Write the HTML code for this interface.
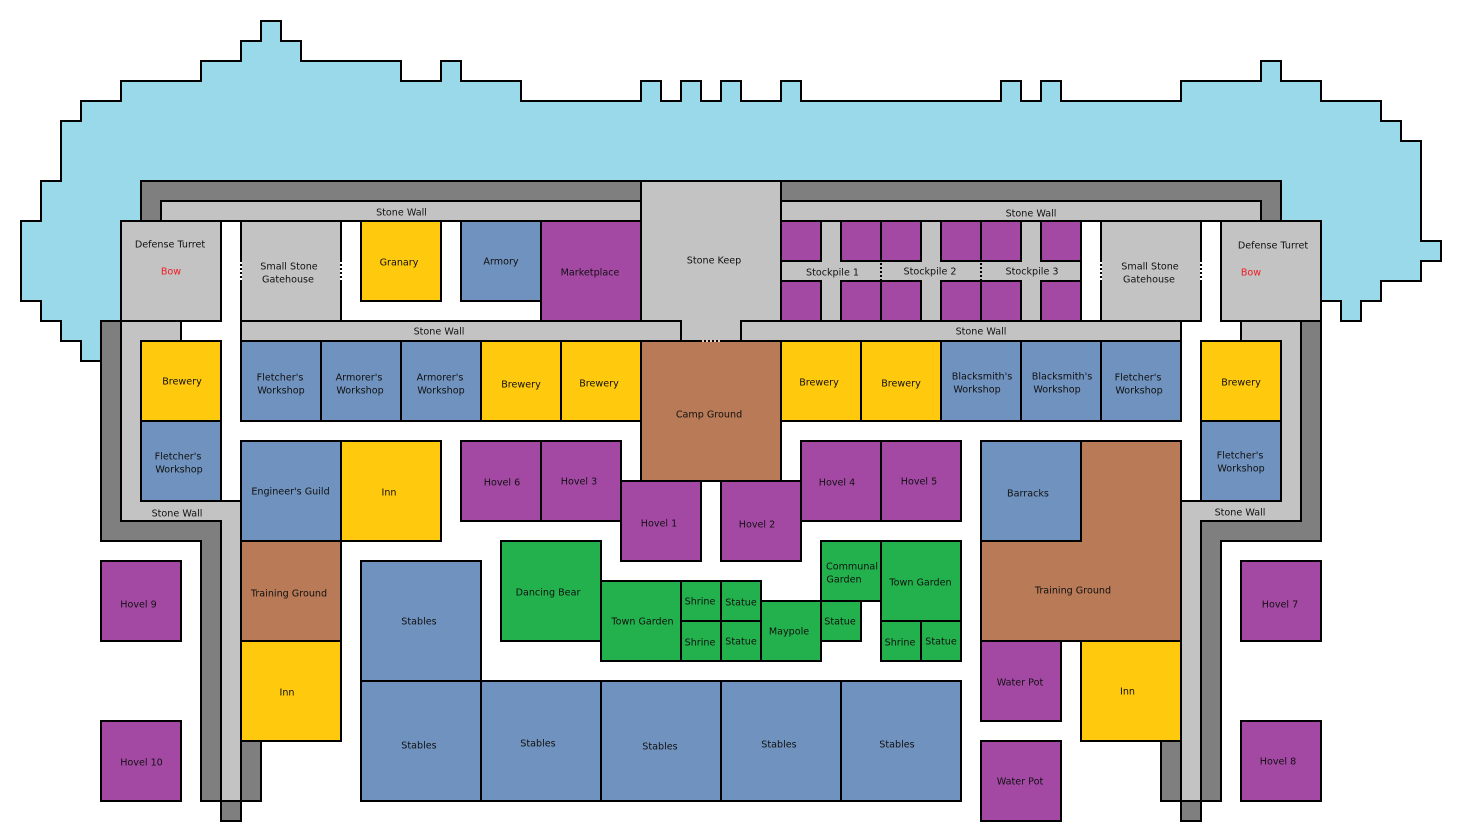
<!DOCTYPE html>
<html><head><meta charset="utf-8"><style>
html,body{margin:0;padding:0;background:#fff}
svg{display:block}
.s{stroke:#000;stroke-width:2;stroke-linejoin:miter}
.m{fill:#99d9ea}.g{fill:#c3c3c3}.d{fill:#7f7f7f}.p{fill:#a349a4}.y{fill:#ffc90e}.b{fill:#7092be}.r{fill:#b97a57}.n{fill:#22b14c}
text{font-family:"DejaVu Sans",sans-serif;font-size:9.6px;text-anchor:middle;fill:#111}
</style></head><body>
<svg width="1460" height="840" viewBox="0 0 1460 840" xmlns="http://www.w3.org/2000/svg">
<g class="s">
<path class="m" d="M261 21H281V41H301V61H401V81H441V61H461V81H521V101H641V81H661V101H681V81H701V101H721V81H741V101H781V81H801V101H1001V81H1021V101H1041V81H1061V101H1181V81H1261V61H1281V81H1321V101H1381V121H1401V141H1421V241H1441V261H1421V281H1381V301H1361V321H1341V301H1321V221H1281V181H141V221H121V321H101V361H81V341H61V321H41V301H21V221H41V181H61V121H81V101H121V81H201V61H241V41H261Z"/>
<path class="d" d="M141 181H1281V221H1261V201H161V221H141Z"/>
<path class="g" d="M161 201H641V221H161ZM781 201H1261V221H781Z"/>
<path class="d" d="M101 321H121V521H221V801H241V741H261V801H201V541H101Z"/>
<path class="d" d="M221 801H241V821H221Z"/>
<path class="g" d="M121 321H181V341H141V501H241V801H221V521H121Z"/>
<path class="d" d="M1301 321H1321V541H1221V801H1161V741H1181V801H1201V521H1301Z"/>
<path class="d" d="M1181 801H1201V821H1181Z"/>
<path class="g" d="M1241 321H1301V521H1201V801H1181V501H1281V341H1241Z"/>
<rect class="g" x="121" y="221" width="100" height="100"/>
<rect class="g" x="241" y="221" width="100" height="100"/>
<rect class="y" x="361" y="221" width="80" height="80"/>
<rect class="b" x="461" y="221" width="80" height="80"/>
<rect class="p" x="541" y="221" width="100" height="100"/>
<rect class="g" x="781" y="221" width="300" height="100"/>
<rect class="p" x="781" y="221" width="40" height="40"/>
<rect class="p" x="841" y="221" width="40" height="40"/>
<rect class="p" x="881" y="221" width="40" height="40"/>
<rect class="p" x="941" y="221" width="40" height="40"/>
<rect class="p" x="981" y="221" width="40" height="40"/>
<rect class="p" x="1041" y="221" width="40" height="40"/>
<rect class="p" x="781" y="281" width="40" height="40"/>
<rect class="p" x="841" y="281" width="40" height="40"/>
<rect class="p" x="881" y="281" width="40" height="40"/>
<rect class="p" x="941" y="281" width="40" height="40"/>
<rect class="p" x="981" y="281" width="40" height="40"/>
<rect class="p" x="1041" y="281" width="40" height="40"/>
<rect class="g" x="1101" y="221" width="100" height="100"/>
<rect class="g" x="1221" y="221" width="100" height="100"/>
<rect class="g" x="241" y="321" width="440" height="20"/>
<rect class="g" x="741" y="321" width="440" height="20"/>
<path class="g" d="M641 181H781V321H741V341H681V321H641Z"/>
<rect class="y" x="141" y="341" width="80" height="80"/>
<rect class="b" x="141" y="421" width="80" height="80"/>
<rect class="b" x="241" y="341" width="80" height="80"/>
<rect class="b" x="321" y="341" width="80" height="80"/>
<rect class="b" x="401" y="341" width="80" height="80"/>
<rect class="y" x="481" y="341" width="80" height="80"/>
<rect class="y" x="561" y="341" width="80" height="80"/>
<rect class="r" x="641" y="341" width="140" height="140"/>
<rect class="y" x="781" y="341" width="80" height="80"/>
<rect class="y" x="861" y="341" width="80" height="80"/>
<rect class="b" x="941" y="341" width="80" height="80"/>
<rect class="b" x="1021" y="341" width="80" height="80"/>
<rect class="b" x="1101" y="341" width="80" height="80"/>
<rect class="y" x="1201" y="341" width="80" height="80"/>
<rect class="b" x="1201" y="421" width="80" height="80"/>
<rect class="b" x="241" y="441" width="100" height="100"/>
<rect class="y" x="341" y="441" width="100" height="100"/>
<rect class="r" x="241" y="541" width="100" height="100"/>
<rect class="y" x="241" y="641" width="100" height="100"/>
<rect class="p" x="461" y="441" width="80" height="80"/>
<rect class="p" x="541" y="441" width="80" height="80"/>
<rect class="p" x="621" y="481" width="80" height="80"/>
<rect class="p" x="721" y="481" width="80" height="80"/>
<rect class="p" x="801" y="441" width="80" height="80"/>
<rect class="p" x="881" y="441" width="80" height="80"/>
<path class="r" d="M1081 441H1181V641H981V541H1081Z"/>
<rect class="b" x="981" y="441" width="100" height="100"/>
<rect class="p" x="981" y="641" width="80" height="80"/>
<rect class="y" x="1081" y="641" width="100" height="100"/>
<rect class="p" x="981" y="741" width="80" height="80"/>
<rect class="b" x="361" y="561" width="120" height="120"/>
<rect class="b" x="361" y="681" width="120" height="120"/>
<rect class="b" x="481" y="681" width="120" height="120"/>
<rect class="b" x="601" y="681" width="120" height="120"/>
<rect class="b" x="721" y="681" width="120" height="120"/>
<rect class="b" x="841" y="681" width="120" height="120"/>
<rect class="n" x="501" y="541" width="100" height="100"/>
<rect class="n" x="601" y="581" width="80" height="80"/>
<rect class="n" x="681" y="581" width="40" height="40"/>
<rect class="n" x="721" y="581" width="40" height="40"/>
<rect class="n" x="681" y="621" width="40" height="40"/>
<rect class="n" x="721" y="621" width="40" height="40"/>
<rect class="n" x="761" y="601" width="60" height="60"/>
<rect class="n" x="821" y="541" width="60" height="60"/>
<rect class="n" x="821" y="601" width="40" height="40"/>
<rect class="n" x="881" y="541" width="80" height="80"/>
<rect class="n" x="881" y="621" width="40" height="40"/>
<rect class="n" x="921" y="621" width="40" height="40"/>
<rect class="p" x="101" y="561" width="80" height="80"/>
<rect class="p" x="101" y="721" width="80" height="80"/>
<rect class="p" x="1241" y="561" width="80" height="80"/>
<rect class="p" x="1241" y="721" width="80" height="80"/>
</g>
<g fill="none" stroke-width="2">
<path stroke="#fff" stroke-dasharray="2 2" d="M241 262V280M341 262V280M1101 262V280M1201 262V280"/>
<path stroke="#000" stroke-dasharray="2 2" d="M881 263V280M981 263V280M1081 263V280"/>
<path stroke="#e8cdb8" stroke-dasharray="2 2" d="M702 341H720"/>
</g>
<text x="401.5" y="215.5">Stone Wall</text>
<text x="1031" y="216.5">Stone Wall</text>
<text x="439" y="334.5">Stone Wall</text>
<text x="981" y="334.5">Stone Wall</text>
<text x="177" y="516.5">Stone Wall</text>
<text x="1240" y="515.5">Stone Wall</text>
<text x="170" y="247.5">Defense Turret</text>
<text x="171" y="274.5" style="fill:#ed1c24">Bow</text>
<text x="289" y="269.5">Small Stone</text>
<text x="288" y="282.5">Gatehouse</text>
<text x="399" y="265.5">Granary</text>
<text x="501" y="264.5">Armory</text>
<text x="590" y="275.5">Marketplace</text>
<text x="714" y="263.5">Stone Keep</text>
<text x="832.5" y="275.5">Stockpile 1</text>
<text x="930" y="274.5">Stockpile 2</text>
<text x="1032" y="274.5">Stockpile 3</text>
<text x="1150" y="269.5">Small Stone</text>
<text x="1149" y="282.5">Gatehouse</text>
<text x="1273" y="248.5">Defense Turret</text>
<text x="1251" y="275.5" style="fill:#ed1c24">Bow</text>
<text x="182" y="384.5">Brewery</text>
<text x="280" y="380.5">Fletcher's</text>
<text x="281" y="393.5">Workshop</text>
<text x="359" y="380.5">Armorer's</text>
<text x="360" y="393.5">Workshop</text>
<text x="440" y="380.5">Armorer's</text>
<text x="441" y="393.5">Workshop</text>
<text x="521" y="387.5">Brewery</text>
<text x="599" y="386.5">Brewery</text>
<text x="709" y="417.5">Camp Ground</text>
<text x="819" y="385.5">Brewery</text>
<text x="901" y="386.5">Brewery</text>
<text x="982" y="379.5">Blacksmith's</text>
<text x="977" y="392.5">Workshop</text>
<text x="1062" y="379.5">Blacksmith's</text>
<text x="1057" y="392.5">Workshop</text>
<text x="1138" y="380.5">Fletcher's</text>
<text x="1139" y="393.5">Workshop</text>
<text x="1241" y="385.5">Brewery</text>
<text x="178" y="459.5">Fletcher's</text>
<text x="179" y="472.5">Workshop</text>
<text x="1240" y="458.5">Fletcher's</text>
<text x="1241" y="471.5">Workshop</text>
<text x="290.5" y="494.5">Engineer's Guild</text>
<text x="389" y="495.5">Inn</text>
<text x="502" y="485.5">Hovel 6</text>
<text x="579" y="484.5">Hovel 3</text>
<text x="659" y="526.5">Hovel 1</text>
<text x="757" y="527.5">Hovel 2</text>
<text x="837" y="485.5">Hovel 4</text>
<text x="919" y="484.5">Hovel 5</text>
<text x="1028" y="496.5">Barracks</text>
<text x="1073" y="593.5">Training Ground</text>
<text x="289" y="596.5">Training Ground</text>
<text x="548" y="595.5">Dancing Bear</text>
<text x="419" y="624.5">Stables</text>
<text x="642.5" y="624.5">Town Garden</text>
<text x="700" y="604.5">Shrine</text>
<text x="741" y="605.5">Statue</text>
<text x="700" y="645.5">Shrine</text>
<text x="741" y="644.5">Statue</text>
<text x="789" y="634.5">Maypole</text>
<text x="852" y="569.5">Communal</text>
<text x="844" y="582.5">Garden</text>
<text x="840" y="624.5">Statue</text>
<text x="920.5" y="585.5">Town Garden</text>
<text x="900" y="645.5">Shrine</text>
<text x="941" y="644.5">Statue</text>
<text x="138.5" y="607.5">Hovel 9</text>
<text x="141.5" y="765.5">Hovel 10</text>
<text x="1280" y="607.5">Hovel 7</text>
<text x="1278" y="764.5">Hovel 8</text>
<text x="287" y="695.5">Inn</text>
<text x="1127.5" y="694.5">Inn</text>
<text x="1020" y="685.5">Water Pot</text>
<text x="1020" y="784.5">Water Pot</text>
<text x="419" y="748.5">Stables</text>
<text x="538" y="746.5">Stables</text>
<text x="660" y="749.5">Stables</text>
<text x="779" y="747.5">Stables</text>
<text x="897" y="747.5">Stables</text>
</svg>
</body></html>
